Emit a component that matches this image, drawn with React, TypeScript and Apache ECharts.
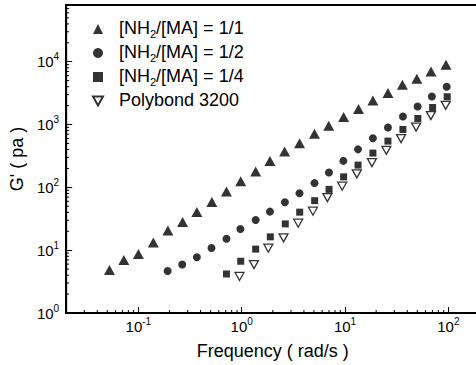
import React, { useEffect, useRef } from "react";
import * as echarts from "echarts";

// ---- Data ----
const seriesNames = [
  "[NH2]/[MA] = 1/1",
  "[NH2]/[MA] = 1/2",
  "[NH2]/[MA] = 1/4",
  "Polybond 3200",
];

const freq11 = [0.0525, 0.0723, 0.1, 0.1395, 0.193, 0.268, 0.368, 0.514, 0.712, 0.978, 1.365, 1.875, 2.6, 3.63, 5.06, 6.95, 9.69, 13.5, 18.6, 26.0, 35.9, 49.5, 67.9, 94.8];
const g11 = [4.85, 7.0, 8.7, 13.2, 20.5, 28.2, 40.7, 58.7, 85.7, 124.6, 178.6, 264, 372, 506, 712, 955, 1314, 1763, 2417, 3170, 4300, 5360, 7000, 8955];

const freq12 = [0.192, 0.2656, 0.368, 0.51, 0.712, 0.971, 1.365, 1.875, 2.616, 3.625, 5.06, 6.98, 9.63, 13.35, 18.6, 26.0, 36.3, 50.4, 69.2, 96.3];
const g12 = [4.67, 5.93, 7.72, 10.86, 15.2, 21.8, 30.3, 41.1, 58.1, 80.8, 116.7, 172, 264, 403, 604, 897, 1339, 1940, 2800, 3996];

const freq14 = [0.712, 0.978, 1.365, 1.892, 2.64, 3.64, 5.08, 7.0, 9.69, 13.35, 18.6, 26.0, 36.3, 50.6, 70.3, 97.4];
const g14 = [4.18, 6.67, 10.4, 16.3, 26.2, 40.3, 61.4, 92.9, 147, 226, 351, 545, 834, 1248, 1870, 2768];

const freqPB = [0.952, 1.314, 1.81, 2.54, 3.52, 4.89, 6.75, 9.38, 13.0, 18.2, 25.1, 34.8, 48.7, 67.7, 94.2];
const gPB = [3.82, 5.89, 10.74, 15.7, 26.9, 41.8, 68.8, 104.5, 164, 248, 389, 597, 910, 1389, 2027];

const xMin = 0.02;
const xMax = 200;
const yMin = 1;
const yMax = 80000;

const FONT = "Liberation Sans";

function zip(xs: number[], ys: number[]) {
  return xs.map((x, i) => [x, ys[i]]);
}

function isPow10(v: number) {
  const l = Math.log10(v);
  return Math.abs(l - Math.round(l)) < 1e-6;
}

function powLabel(v: number) {
  if (!isPow10(v)) return "";
  const e = Math.round(Math.log10(v));
  return "{b|10}{s|" + e + "}";
}

// minor tick positions (2..9 in each decade)
function minorTicks(lo: number, hi: number) {
  const out: number[] = [];
  for (let d = -3; d <= 5; d++) {
    for (let m = 2; m <= 9; m++) {
      const v = m * Math.pow(10, d);
      if (v > lo * 1.0001 && v < hi * 0.9999) out.push(v);
    }
  }
  return out;
}

const labelRich = {
  b: { fontSize: 15, fontFamily: FONT, color: "#000", lineHeight: 20 },
  s: { fontSize: 10, fontFamily: FONT, color: "#000", lineHeight: 20, verticalAlign: "top" },
};

export default function App() {
  const ref = useRef<HTMLDivElement>(null);

  useEffect(() => {
    if (!ref.current) return;
    const chart = echarts.init(ref.current, undefined, { renderer: "svg" });

    const tickData = [
      ...minorTicks(xMin, xMax).map((v) => [v, yMin, 0]),
      ...minorTicks(yMin, yMax).map((v) => [xMin, v, 1]),
    ];

    const option: any = {
      animation: false,
      backgroundColor: "#fff",
      textStyle: { fontFamily: FONT },
      grid: {
        left: 65,
        top: 5,
        right: 10.5,
        bottom: 52,
        show: true,
        borderColor: "#000",
        borderWidth: 2,
        backgroundColor: "transparent",
      },
      legend: {
        data: seriesNames,
        orient: "vertical",
        left: 87,
        top: 14,
        itemWidth: 10,
        itemHeight: 10,
        itemGap: 4,
        selectedMode: false,
        formatter: (name: string) => {
          if (name.startsWith("[NH2]")) {
            return "{a|[NH}{sub|2}{a|" + name.slice(5) + "}";
          }
          return "{a|" + name + "}{sub| }";
        },
        textStyle: {
          color: "#000",
          fontFamily: FONT,
          fontSize: 18,
          padding: [0, 0, 0, 11],
          rich: {
            a: { fontSize: 18, fontFamily: FONT, color: "#000", lineHeight: 18, verticalAlign: "top" },
            sub: { fontSize: 11, fontFamily: FONT, color: "#000", lineHeight: 20, verticalAlign: "bottom" },
          },
        },
      },
      xAxis: {
        type: "log",
        min: xMin,
        max: xMax,
        name: "Frequency ( rad/s )",
        nameLocation: "middle",
        nameGap: 29,
        nameTextStyle: { fontSize: 18, fontFamily: FONT, color: "#000" },
        axisLine: { show: true, lineStyle: { color: "#000", width: 2 } },
        axisTick: { show: true, inside: true, length: 6, lineStyle: { color: "#000", width: 1 } },
        splitLine: { show: false },
        minorTick: { show: false },
        axisLabel: {
          margin: 3,
          formatter: powLabel,
          rich: labelRich,
          showMinLabel: false,
          showMaxLabel: false,
        },
      },
      yAxis: {
        type: "log",
        min: yMin,
        max: yMax,
        name: "G' ( pa )",
        nameLocation: "middle",
        nameGap: 34,
        nameTextStyle: { fontSize: 18, fontFamily: FONT, color: "#000" },
        axisLine: { show: true, lineStyle: { color: "#000", width: 2 } },
        axisTick: { show: true, inside: true, length: 6, lineStyle: { color: "#000", width: 1 } },
        splitLine: { show: false },
        axisLabel: {
          margin: 7,
          formatter: powLabel,
          rich: labelRich,
        },
      },
      series: [
        {
          name: seriesNames[0],
          type: "scatter",
          symbol: "triangle",
          symbolSize: [11, 10],
          itemStyle: { color: "#000" },
          data: zip(freq11, g11),
        },
        {
          name: seriesNames[1],
          type: "scatter",
          symbol: "circle",
          symbolSize: 8,
          itemStyle: { color: "#000" },
          data: zip(freq12, g12),
        },
        {
          name: seriesNames[2],
          type: "scatter",
          symbol: "rect",
          symbolSize: 7,
          itemStyle: { color: "#000" },
          data: zip(freq14, g14),
        },
        {
          name: seriesNames[3],
          type: "scatter",
          symbol: "path://M0,0L10,0L5,9Z",
          symbolSize: [9, 8],
          itemStyle: { color: "#fff", borderColor: "#000", borderWidth: 1.3 },
          data: zip(freqPB, gPB),
        },
        {
          name: "minor ticks",
          type: "custom",
          silent: true,
          clip: false,
          z: 5,
          data: tickData,
          renderItem: (params: any, api: any) => {
            const p = api.coord([api.value(0), api.value(1)]);
            const isX = api.value(2) === 0;
            return {
              type: "line",
              shape: isX
                ? { x1: p[0], y1: p[1], x2: p[0], y2: p[1] - 3 }
                : { x1: p[0], y1: p[1], x2: p[0] + 3, y2: p[1] },
              style: { stroke: "#000", lineWidth: 1 },
            };
          },
        },
      ],
    };

    chart.setOption(option);
    return () => chart.dispose();
  }, []);

  return (
    <div
      style={{
        position: "absolute",
        left: 0,
        top: 0,
        width: 476,
        height: 365,
        overflow: "hidden",
        background: "#fff",
      }}
    >
      <div ref={ref} style={{ width: 490, height: 365 }} />
    </div>
  );
}
